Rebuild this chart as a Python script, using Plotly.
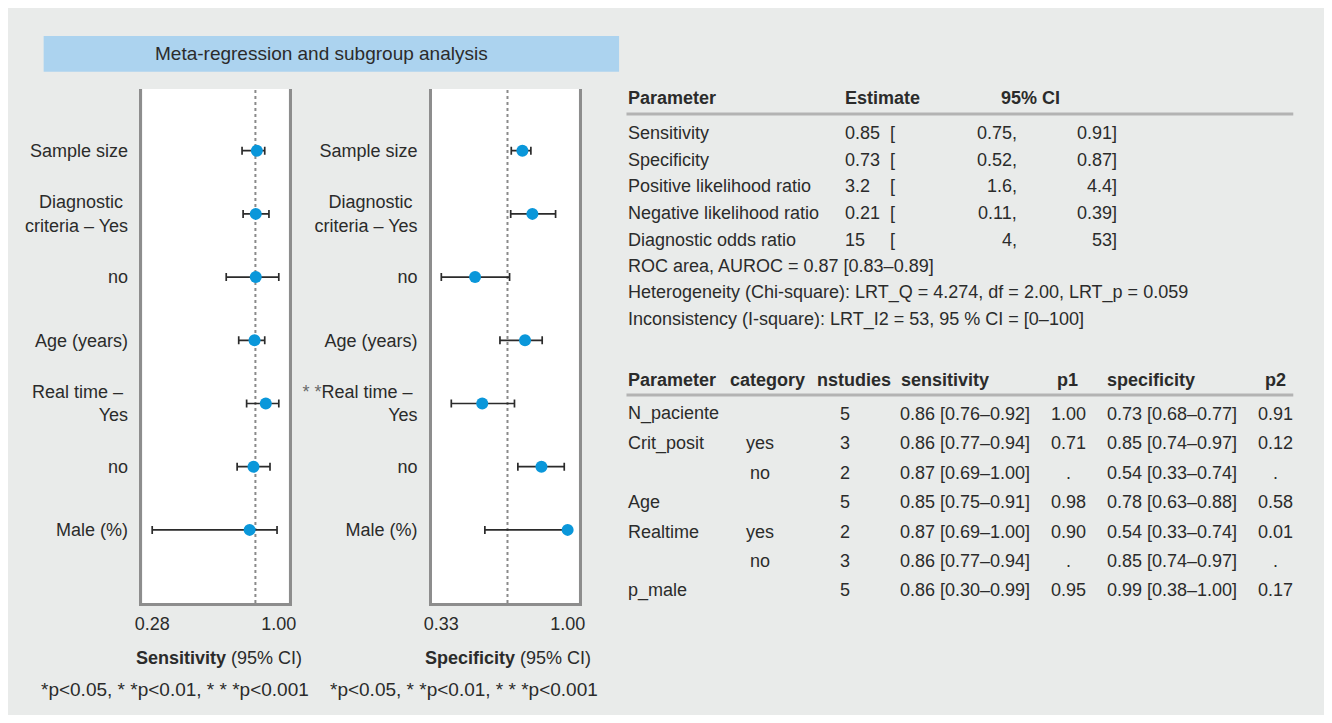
import plotly.graph_objects as go

# figure sits inside the default 8px body margin of the page
OFF = 8
W, H = 1332 - 2 * OFF, 723 - 2 * OFF
FONT = "Liberation Sans, Arial, sans-serif"
TXT = "#2b2b2b"

# ---------------- forest plot data ----------------
row_labels_sens = ["Sample size", "Diagnostic\u00a0<br>criteria – Yes", "no", "Age (years)",
                   "Real time –\u00a0<br>Yes", "no", "Male (%)"]
row_labels_spec = ["Sample size", "Diagnostic\u00a0<br>criteria – Yes", "no", "Age (years)",
                   "<span style='color:#6a6a6a'>* *</span>Real time –\u00a0<br>Yes", "no",
                   "Male (%)"]
row_pos = [1, 2, 3, 4, 5, 6, 7]

sens_est = [0.875, 0.869, 0.869, 0.862, 0.926, 0.856, 0.834]
sens_lo = [0.791, 0.797, 0.701, 0.772, 0.817, 0.763, 0.280]
sens_hi = [0.920, 0.944, 1.000, 0.920, 1.000, 0.950, 0.990]
sens_ref = 0.867

spec_est = [0.760, 0.813, 0.509, 0.774, 0.547, 0.861, 1.000]
spec_lo = [0.701, 0.698, 0.330, 0.641, 0.383, 0.736, 0.561]
spec_hi = [0.805, 0.936, 0.692, 0.865, 0.718, 0.982, 1.000]
spec_ref = 0.681

sens_ticks = [0.28, 1.00]
spec_ticks = [0.33, 1.00]

# ---------------- summary table data ----------------
sum_params = ["Sensitivity", "Specificity", "Positive likelihood ratio",
              "Negative likelihood ratio", "Diagnostic odds ratio"]
sum_est = ["0.85", "0.73", "3.2", "0.21", "15"]
sum_lo = ["0.75", "0.52", "1.6", "0.11", "4"]
sum_hi = ["0.91", "0.87", "4.4", "0.39", "53"]
sum_notes = ["ROC area, AUROC = 0.87 [0.83–0.89]",
             "Heterogeneity (Chi-square): LRT_Q = 4.274, df = 2.00, LRT_p = 0.059",
             "Inconsistency (I-square): LRT_I2 = 53, 95 % CI = [0–100]"]

# ---------------- subgroup table data ----------------
sub_header = ["Parameter", "category", "nstudies", "sensitivity", "p1", "specificity", "p2"]
sub_param = ["N_paciente", "Crit_posit", "", "Age", "Realtime", "", "p_male"]
sub_cat = ["", "yes", "no", "", "yes", "no", ""]
sub_n = [5, 3, 2, 5, 2, 3, 5]
sub_sens = [0.86, 0.86, 0.87, 0.85, 0.87, 0.86, 0.86]
sub_sens_lo = [0.76, 0.77, 0.69, 0.75, 0.69, 0.77, 0.30]
sub_sens_hi = [0.92, 0.94, 1.00, 0.91, 1.00, 0.94, 0.99]
sub_p1 = ["1.00", "0.71", ".", "0.98", "0.90", ".", "0.95"]
sub_spec = [0.73, 0.85, 0.54, 0.78, 0.54, 0.85, 0.99]
sub_spec_lo = [0.68, 0.74, 0.33, 0.63, 0.33, 0.74, 0.38]
sub_spec_hi = [0.77, 0.97, 0.74, 0.88, 0.74, 0.97, 1.00]
sub_p2 = ["0.91", "0.12", ".", "0.58", "0.01", ".", "0.17"]


def X(px):  # screen pixel -> paper
    return (px - OFF) / W


def Y(py):
    return 1 - (py - OFF) / H


fig = go.Figure()

DOT = "#0a97da"
BAR = "#2b2b2b"


def forest(est, lo, hi, xa, ya):
    fig.add_trace(go.Scatter(
        x=est, y=row_pos, mode="markers", xaxis=xa, yaxis=ya,
        marker=dict(size=12, color=DOT),
        error_x=dict(type="data", symmetric=False,
                     array=[h - e for h, e in zip(hi, est)],
                     arrayminus=[e - l for e, l in zip(est, lo)],
                     color=BAR, thickness=1.7, width=4),
        showlegend=False, hoverinfo="skip"))


forest(sens_est, sens_lo, sens_hi, "x", "y")
forest(spec_est, spec_lo, spec_hi, "x2", "y2")

ydom = [Y(603), Y(89)]
axis_line = dict(showline=True, linecolor="#8d8d8d", linewidth=2.5, showgrid=False,
                 zeroline=False, ticks="")
tickfont = dict(family=FONT, size=18, color=TXT)

fig.update_layout(
    xaxis=dict(domain=[X(136), X(284)], range=[0.2245, 1.056], anchor="y",
               tickvals=sens_ticks, ticktext=[f"{v:.2f}" for v in sens_ticks],
               tickfont=tickfont, ticklabelstandoff=3, **axis_line),
    yaxis=dict(domain=ydom, range=[8.157, 0.024], anchor="x", mirror=True,
               tickvals=row_pos, ticktext=row_labels_sens, tickfont=tickfont,
               ticklabelstandoff=8, **axis_line),
    xaxis2=dict(domain=[X(429), X(577.7)], range=[0.280, 1.059], anchor="y2",
                tickvals=spec_ticks, ticktext=[f"{v:.2f}" for v in spec_ticks],
                tickfont=tickfont, ticklabelstandoff=3, **axis_line),
    yaxis2=dict(domain=ydom, range=[8.157, 0.024], anchor="x2", mirror=True,
                tickvals=row_pos, ticktext=row_labels_spec, tickfont=tickfont,
                ticklabelstandoff=8, **axis_line),
)

shapes = []
# title bar
shapes.append(dict(type="rect", xref="paper", yref="paper", x0=X(36), x1=X(618.5),
                   y0=Y(71.7), y1=Y(36), fillcolor="#acd3ef", line=dict(width=0), layer="below"))
# reference dotted lines
for xr, yr, v in [("x", "y domain", sens_ref), ("x2", "y2 domain", spec_ref)]:
    shapes.append(dict(type="line", xref=xr, yref=yr, x0=v, x1=v, y0=0, y1=1,
                       line=dict(color="#8a8a8a", width=2, dash="dot"), layer="below"))
# table rules
for py in [114, 395]:
    shapes.append(dict(type="line", xref="paper", yref="paper", x0=X(626), x1=X(1301),
                       y0=Y(py), y1=Y(py), line=dict(color="#b3b3b3", width=3)))
fig.update_layout(shapes=shapes)

ann = []


def text(px, py, s, anchor="left", size=18, bold=False, color=TXT):
    if bold:
        s = f"<b>{s}</b>"
    ann.append(dict(xref="paper", yref="paper", x=X(px), y=Y(py), text=s,
                    xanchor=anchor, yanchor="middle", showarrow=False,
                    font=dict(family=FONT, size=size, color=color)))


# title
text(317.7, 53.5, "Meta-regression and subgroup analysis", anchor="center", size=19)

# axis titles + footnotes
text(213, 658, "<b>Sensitivity</b> (95% CI)", anchor="center")
text(506, 658, "<b>Specificity</b> (95% CI)", anchor="center")
foot = "*p&lt;0.05, * *p&lt;0.01, * * *p&lt;0.001"
text(169, 689, foot, anchor="center", size=19)
text(462, 689, foot, anchor="center", size=19)

# summary table
hy = 98
text(626, hy, "Parameter", bold=True)
text(845, hy, "Estimate", bold=True)
text(1003, hy, "95% CI", bold=True)
row_y = [133, 159.7, 186.3, 213, 239.7]
for i, p in enumerate(sum_params):
    text(626, row_y[i], p)
    text(845, row_y[i], sum_est[i])
    text(891, row_y[i], "[")
    text(1023, row_y[i], sum_lo[i] + ",", anchor="right")
    text(1125, row_y[i], sum_hi[i] + "]", anchor="right")
for j, note in enumerate(sum_notes):
    text(626, 266 + 26.7 * j, note)

# subgroup table
hy2 = 380
col_x = [626, 729, 817, 902, 1072, 1110, 1283]
col_anchor = ["left", "left", "left", "left", "center", "left", "center"]
for h, cx, a in zip(sub_header, col_x, col_anchor):
    text(cx, hy2, h, anchor=a, bold=True)
for i in range(len(sub_param)):
    py = 414 + 29.4 * i
    if sub_param[i]:
        text(626, py, sub_param[i])
    if sub_cat[i]:
        text(761, py, sub_cat[i], anchor="center")
    text(847, py, str(sub_n[i]), anchor="center")
    text(901, py, f"{sub_sens[i]:.2f} [{sub_sens_lo[i]:.2f}–{sub_sens_hi[i]:.2f}]")
    text(1073, py, sub_p1[i], anchor="center")
    text(1110, py, f"{sub_spec[i]:.2f} [{sub_spec_lo[i]:.2f}–{sub_spec_hi[i]:.2f}]")
    text(1283, py, sub_p2[i], anchor="center")

fig.update_layout(annotations=ann)

fig.update_layout(
    width=W, height=H, margin=dict(l=0, r=0, t=0, b=0, pad=0),
    paper_bgcolor="#e9ebea", plot_bgcolor="white",
    font=dict(family=FONT, size=18, color=TXT),
)

fig.write_html("out.html", config={"displayModeBar": False})
